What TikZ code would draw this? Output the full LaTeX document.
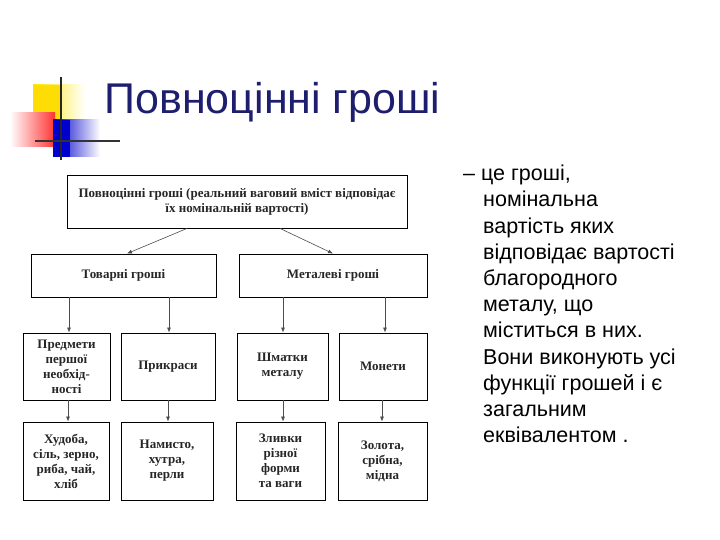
\documentclass[tikz,border=0pt]{standalone}
\usepackage{fontspec}
\setmainfont{Liberation Serif}
\newfontfamily\arialf{Liberation Sans}
\usetikzlibrary{arrows.meta}
\definecolor{navy}{RGB}{30,30,110}
\begin{document}
\begin{tikzpicture}[x=1pt,y=-1pt,
 bx/.style={draw,line width=0.9pt,inner sep=0pt,align=center,font=\fontsize{13}{15}\selectfont\bfseries,text=black!85},
 ar/.style={-{Latex[length=5pt,width=4pt]},line width=0.6pt,black!70}]
\useasboundingbox (0,0) rectangle (720,540);
% logo
\shade[left color=yellow!80!orange, right color=white] (33,85) rectangle (85,120);
\fill[yellow!80!orange] (33,85) rectangle (60,120);
\shade[left color=white, right color=red!80] (10,113) rectangle (55,147);
\shade[left color=blue!80!black, right color=white] (53,120) rectangle (100,157);
\fill[blue!80!black] (53,120) rectangle (70,157);
\draw[line width=1.5pt,black!85] (61,77) -- (61,160);
\draw[line width=1.5pt,black!80] (35,141) -- (120,141);
\node[anchor=base west,text=navy,font=\arialf\fontsize{43}{46}\selectfont] (title) at (101,114) {Повноцінні гроші};
% right text
\node[anchor=north west,align=left,font=\arialf\fontsize{21.5}{26.2}\selectfont,inner sep=0pt] (desc) at (463,165)
{– це гроші,\\\hspace{20pt}номінальна\\\hspace{20pt}вартість яких\\\hspace{20pt}відповідає вартості\\\hspace{20pt}благородного\\\hspace{20pt}металу, що\\\hspace{20pt}міститься в них.\\\hspace{20pt}Вони виконують усі\\\hspace{20pt}функції грошей і є\\\hspace{20pt}загальним\\\hspace{20pt}еквівалентом .};
% diagram
\node[bx,minimum width=340pt,minimum height=53pt] (top) at (237,201.5) {Повноцінні гроші (реальний ваговий вміст відповідає\\ їх номінальній вартості)};
\node[bx,minimum width=185pt,minimum height=43pt] (tov) at (123.5,275.5) {Товарні гроші};
\node[bx,minimum width=188pt,minimum height=43pt] (met) at (333,275.5) {Металеві гроші};
\node[bx,minimum width=87pt,minimum height=67pt] (a1) at (66.5,366.5) {Предмети\\першої\\необхід-\\ності};
\node[bx,minimum width=94pt,minimum height=67pt] (a2) at (168,366.5) {Прикраси};
\node[bx,minimum width=91pt,minimum height=67pt] (a3) at (282.5,366.5) {Шматки\\металу};
\node[bx,minimum width=88pt,minimum height=67pt] (a4) at (383,366.5) {Монети};
\node[bx,minimum width=86pt,minimum height=78pt] (b1) at (66,461) {Худоба,\\сіль, зерно,\\риба, чай,\\хліб};
\node[bx,minimum width=92pt,minimum height=78pt] (b2) at (167,461) {Намисто,\\хутра,\\перли};
\node[bx,minimum width=89pt,minimum height=78pt] (b3) at (280.5,461) {Зливки\\різної\\форми\\та ваги};
\node[bx,minimum width=89pt,minimum height=78pt] (b4) at (382.5,461) {Золота,\\срібна,\\мідна};
\draw[ar] (top.south -| 187,0) -- (tov.north -| 127,0);
\draw[ar] (top.south -| 280,0) -- (met.north -| 333,0);
\foreach \s/\t/\x in {tov/a1/69,tov/a2/169,met/a3/283,met/a4/385,a1/b1/68,a2/b2/168,a3/b3/283,a4/b4/382}
  \draw[ar] (\s.south -| \x,0) -- (\t.north -| \x,0);
\end{tikzpicture}
\end{document}
